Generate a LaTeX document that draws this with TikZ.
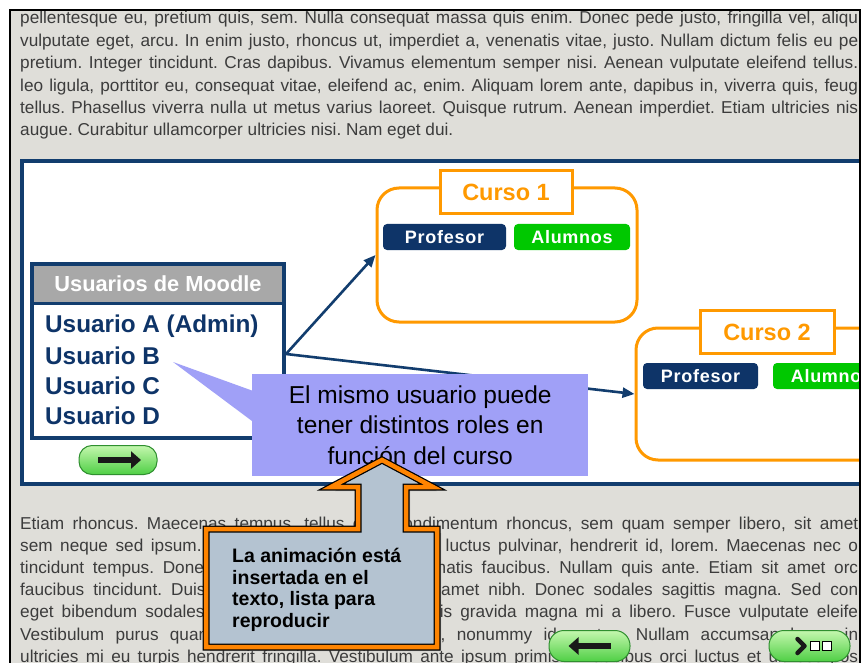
\documentclass[tikz,border=0pt]{standalone}
\usepackage{fontspec}
\setmainfont{Liberation Sans}
\newfontfamily\bodyfont{Liberation Sans}
\newfontfamily\rolefont[LetterSpace=4]{Liberation Sans}
\usetikzlibrary{arrows.meta}
\frenchspacing
\definecolor{pagegray}{HTML}{DFDED9}
\definecolor{navy}{HTML}{0E3468}
\definecolor{frameblue}{HTML}{123D6E}
\definecolor{corange}{HTML}{FF9900}
\definecolor{cgreen}{HTML}{00C800}
\definecolor{notepurple}{HTML}{A0A0F7}
\definecolor{bluegray}{HTML}{B4C3D1}
\definecolor{hdrgray}{HTML}{A8A8A8}
\definecolor{txtgray}{HTML}{3C3C3C}
\definecolor{btnlight}{HTML}{C4F7AE}
\definecolor{btndark}{HTML}{4FCF45}
\definecolor{btnborder}{HTML}{2F8F2F}
\definecolor{animorange}{HTML}{FF8400}
\newcommand{\jline}[1]{\makebox[838pt][s]{#1}}
\tikzset{
  bodytxt/.style={anchor=base west, inner sep=0, text=txtgray,
    font=\bodyfont\frenchspacing\fontsize{17.2}{20}\selectfont},
  usrtxt/.style={anchor=west, inner sep=0, text=navy,
    font=\bfseries\fontsize{24.3}{28}\selectfont},
  cursobox/.style={draw=corange, line width=3, rounded corners=22, fill=white, inner sep=0},
  cursotitle/.style={draw=corange, line width=3, fill=white, text=corange,
    minimum width=132, minimum height=43, inner sep=0,
    font=\bfseries\fontsize{23.5}{26}\selectfont},
  rolebox/.style={rounded corners=4, text=white, minimum height=26, inner sep=0,
    font=\rolefont\bfseries\fontsize{18}{20}\selectfont},
  pill/.style={rounded corners=13, draw=btnborder, line width=1, top color=btnlight,
    bottom color=btndark, minimum width=78, minimum height=29, inner sep=0},
  conn/.style={draw=frameblue, line width=2.6, -{Triangle[length=12pt,width=10pt]}},
  btnarrow/.style={line width=6, draw=black!90, -{Triangle[length=10pt,width=17pt]}}
}
\begin{document}
\begin{tikzpicture}[x=1pt,y=-1pt]
\useasboundingbox (0,0) rectangle (862,663);
\fill[white] (0,0) rectangle (862,663);
\fill[pagegray] (10,10) rectangle (860,663);
\begin{scope}
\clip (10,10) rectangle (860,663);
% top text
\node[bodytxt] (t1) at (20,24) {\jline{pellentesque eu, pretium quis, sem. Nulla consequat massa quis enim. Donec pede justo, fringilla vel, aliqu}};
\node[bodytxt] (t2) at (20,46.4) {\jline{vulputate eget, arcu. In enim justo, rhoncus ut, imperdiet a, venenatis vitae, justo. Nullam dictum felis eu pe}};
\node[bodytxt] (t3) at (20,68.8) {\jline{pretium. Integer tincidunt. Cras dapibus. Vivamus elementum semper nisi. Aenean vulputate eleifend tellus.}};
\node[bodytxt] (t4) at (20,91.2) {\jline{leo ligula, porttitor eu, consequat vitae, eleifend ac, enim. Aliquam lorem ante, dapibus in, viverra quis, feug}};
\node[bodytxt] (t5) at (20,113.6) {\jline{tellus. Phasellus viverra nulla ut metus varius laoreet. Quisque rutrum. Aenean imperdiet. Etiam ultricies nis}};
\node[bodytxt] (t6) at (20,136) {augue. Curabitur ullamcorper ultricies nisi. Nam eget dui.};
% bottom text
\node[bodytxt] (b1) at (20,529) {\jline{Etiam rhoncus. Maecenas tempus, tellus eget condimentum rhoncus, sem quam semper libero, sit amet}};
\node[bodytxt] (b2) at (20,551.2) {\jline{sem neque sed ipsum. Nam quam nunc, blandit vel, luctus pulvinar, hendrerit id, lorem. Maecenas nec o}};
\node[bodytxt] (b3) at (20,573.4) {\jline{tincidunt tempus. Donec vitae sapien ut libero venenatis faucibus. Nullam quis ante. Etiam sit amet orc}};
\node[bodytxt] (b4) at (20,595.6) {\jline{faucibus tincidunt. Duis leo. Sed fringilla mauris sit amet nibh. Donec sodales sagittis magna. Sed con}};
\node[bodytxt] (b5) at (20,617.8) {\jline{eget bibendum sodales, augue velit cursus nunc, quis gravida magna mi a libero. Fusce vulputate eleife}};
\node[bodytxt] (b6) at (20,640) {\jline{Vestibulum purus quam, scelerisque ut, mollis sed, nonummy id, metus. Nullam accumsan lorem in}};
\node[bodytxt] (b7) at (20,662.2) {\jline{ultricies mi eu turpis hendrerit fringilla. Vestibulum ante ipsum primis in faucibus orci luctus et ultrices pos}};
% diagram frame
\draw[frameblue, line width=4, fill=white] (22,161) rectangle (880,484);
% Curso 1
\node[cursobox, minimum width=260, minimum height=134] (k1) at (507,255) {};
\node[cursotitle] (k1t) at (506,192) {Curso 1};
\node[rolebox, fill=navy, minimum width=123] (p1) at (444.5,237) {Profesor};
\node[rolebox, fill=cgreen, minimum width=116] (a1) at (572,237) {Alumnos};
% Curso 2
\node[cursobox, minimum width=250, minimum height=132] (k2) at (761,394) {};
\node[cursotitle, minimum width=134] (k2t) at (767,332) {Curso 2};
\node[rolebox, fill=navy, minimum width=115] (p2) at (700.5,376) {Profesor};
\node[rolebox, fill=cgreen, minimum width=117] (a2) at (831.5,376) {Alumnos};
% Usuarios de Moodle
\node[fill=white, minimum width=252, minimum height=174, anchor=north west, inner sep=0, outer sep=0] (usr) at (32,264) {};
\node[fill=hdrgray, text=white, minimum width=252, minimum height=39, anchor=north west, inner sep=0, outer sep=0,
  font=\bfseries\fontsize{21.8}{24}\selectfont] (hdr) at (32,264) {Usuarios de Moodle};
\draw[frameblue, line width=3.5] (usr.north west) rectangle (usr.south east);
\draw[frameblue, line width=3] (hdr.south west) -- (hdr.south east);
\node[usrtxt] (ua) at (45,326) {Usuario A (Admin)};
\node[usrtxt] (ub) at (45,356) {Usuario B};
\node[usrtxt] (uc) at (45,386) {Usuario C};
\node[usrtxt] (ud) at (45,416) {Usuario D};
% connectors
\coordinate (ustart) at (286,354);
\draw[conn] (ustart) -- (k1.west);
\draw[conn] (ustart) -- (k2.west);
% next button
\node[pill] (nextbtn) at (118,460) {};
\draw[btnarrow] ([xshift=-20]nextbtn.center) -- ([xshift=23]nextbtn.center);
% purple note
\coordinate (ptip) at (173,362);
\fill[notepurple] (ptip) -- (256,392) -- (256,424) -- cycle;
\node[fill=notepurple, minimum width=336, minimum height=102, anchor=north west, inner sep=0,
  align=center, font=\fontsize{24.5}{30.5}\selectfont] (note) at (252,374)
  {El mismo usuario puede\\tener distintos roles en\\función del curso};
% animation callout
\coordinate (atip) at (382,460);
\path[fill=black!45, opacity=0.6] (210,533) -- (362,533) -- (362,491) -- (335,491) -- ([shift={(4,4)}]atip) -- (437,491) -- (410,491) -- (410,533) -- (441,533) -- (441,651) -- (210,651) -- cycle;
\path[draw=black, line width=7, fill=bluegray, line join=miter]
  (206,529) -- (358,529) -- (358,487) -- (331,487) -- (atip) -- (433,487) -- (406,487) -- (406,529) -- (437,529) -- (437,647) -- (206,647) -- cycle;
\path[draw=animorange, line width=4.5, line join=miter]
  (206,529) -- (358,529) -- (358,487) -- (331,487) -- (atip) -- (433,487) -- (406,487) -- (406,529) -- (437,529) -- (437,647) -- (206,647) -- cycle;
\node[anchor=north west, inner sep=0, align=left, text=black,
  font=\bfseries\fontsize{19.5}{21.5}\selectfont] (anim) at (232,548)
  {La animación está\\insertada en el\\texto, lista para\\reproducir};
% nav buttons
\node[pill, minimum width=81, minimum height=31, rounded corners=15] (prevbtn) at (589.5,646) {};
\draw[btnarrow] ([xshift=21]prevbtn.center) -- ([xshift=-21]prevbtn.center);
\node[pill, minimum width=81, minimum height=31, rounded corners=15] (playbtn) at (809.5,646) {};
\draw[black!90, line width=4.5, line cap=round, line join=round]
  ([shift={(-12,-7)}]playbtn.center) -- ([shift={(-5,0)}]playbtn.center) -- ([shift={(-12,7)}]playbtn.center);
\draw[black, fill=white, line width=1] ([shift={(1,-5)}]playbtn.center) rectangle ([shift={(10,4)}]playbtn.center);
\draw[black, fill=white, line width=1] ([shift={(13,-5)}]playbtn.center) rectangle ([shift={(22,4)}]playbtn.center);
\end{scope}
\draw[black, line width=1.5] (10,664) -- (10,10) -- (860,10) -- (860,664);
\end{tikzpicture}
\end{document}
